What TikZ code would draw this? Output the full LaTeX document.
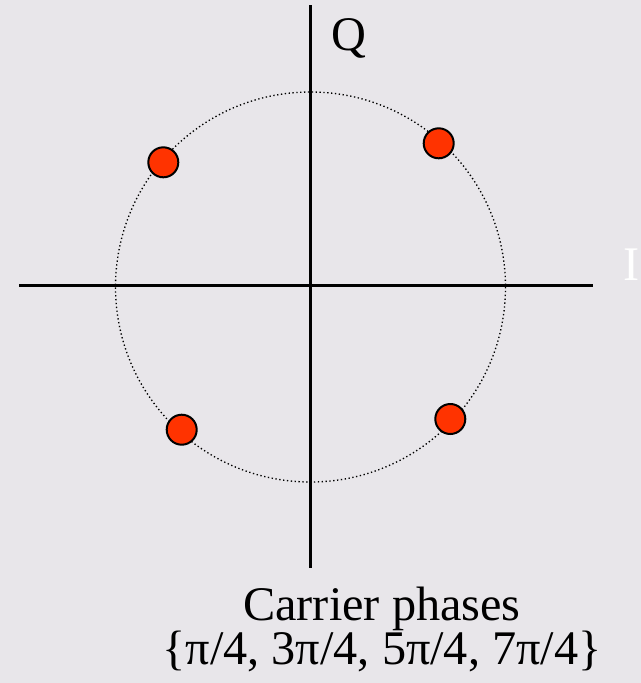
\documentclass[tikz,border=0pt]{standalone}
\usepackage{fontspec}
\setmainfont{Liberation Serif}
\usepackage{xcolor}
\usepackage{tikz}
\definecolor{slideBg}{RGB}{232,230,234}
\definecolor{symRed}{RGB}{255,51,0}
\newcommand\capfont{\fontsize{36.2}{33}\selectfont\lineskiplimit=-100pt\relax}
\tikzset{
  axisLine/.style={line width=2.3pt,draw=black},
  ringLine/.style={line width=1pt,draw=black,dash pattern=on 1pt off 1.9pt},
  symDot/.style={circle,draw=black,line width=1.5pt,fill=symRed,
        minimum size=22.5pt,inner sep=0pt},
  axisLabel/.style={font=\capfont,inner sep=0pt},
}

\begin{document}
\begin{tikzpicture}[x=0.75pt,y=-0.75pt]
\fill[slideBg] (0,0) rectangle (641,683);
\useasboundingbox (0,0) rectangle (641,683);
% axes
\coordinate (qTop) at (310.5,5);
\coordinate (qBot) at (310.5,568);
\coordinate (iLeft) at (19,285.5);
\coordinate (iRight) at (593,285.5);
\coordinate (org) at (310.5,287);
\draw[ringLine] (org) circle (195);
\draw[axisLine] (qTop)--(qBot);
\draw[axisLine] (iLeft)--(iRight);
\node[axisLabel,anchor=base] (qLab) at (348.5,50) {Q};
\node[axisLabel,anchor=base,text=white] (iLab) at (632,280) {I};
% constellation points
\node[symDot] (s1) at (438.7,143.3) {};
\node[symDot] (s2) at (163.3,162.3) {};
\node[symDot] (s3) at (181.7,429.7) {};
\node[symDot] (s4) at (450.3,419) {};
\node[axisLabel,align=center,anchor=base] (cap) at (382,664)
  {Carrier phases\\\{π/4, 3π/4, 5π/4, 7π/4\}};
\end{tikzpicture}
\end{document}
